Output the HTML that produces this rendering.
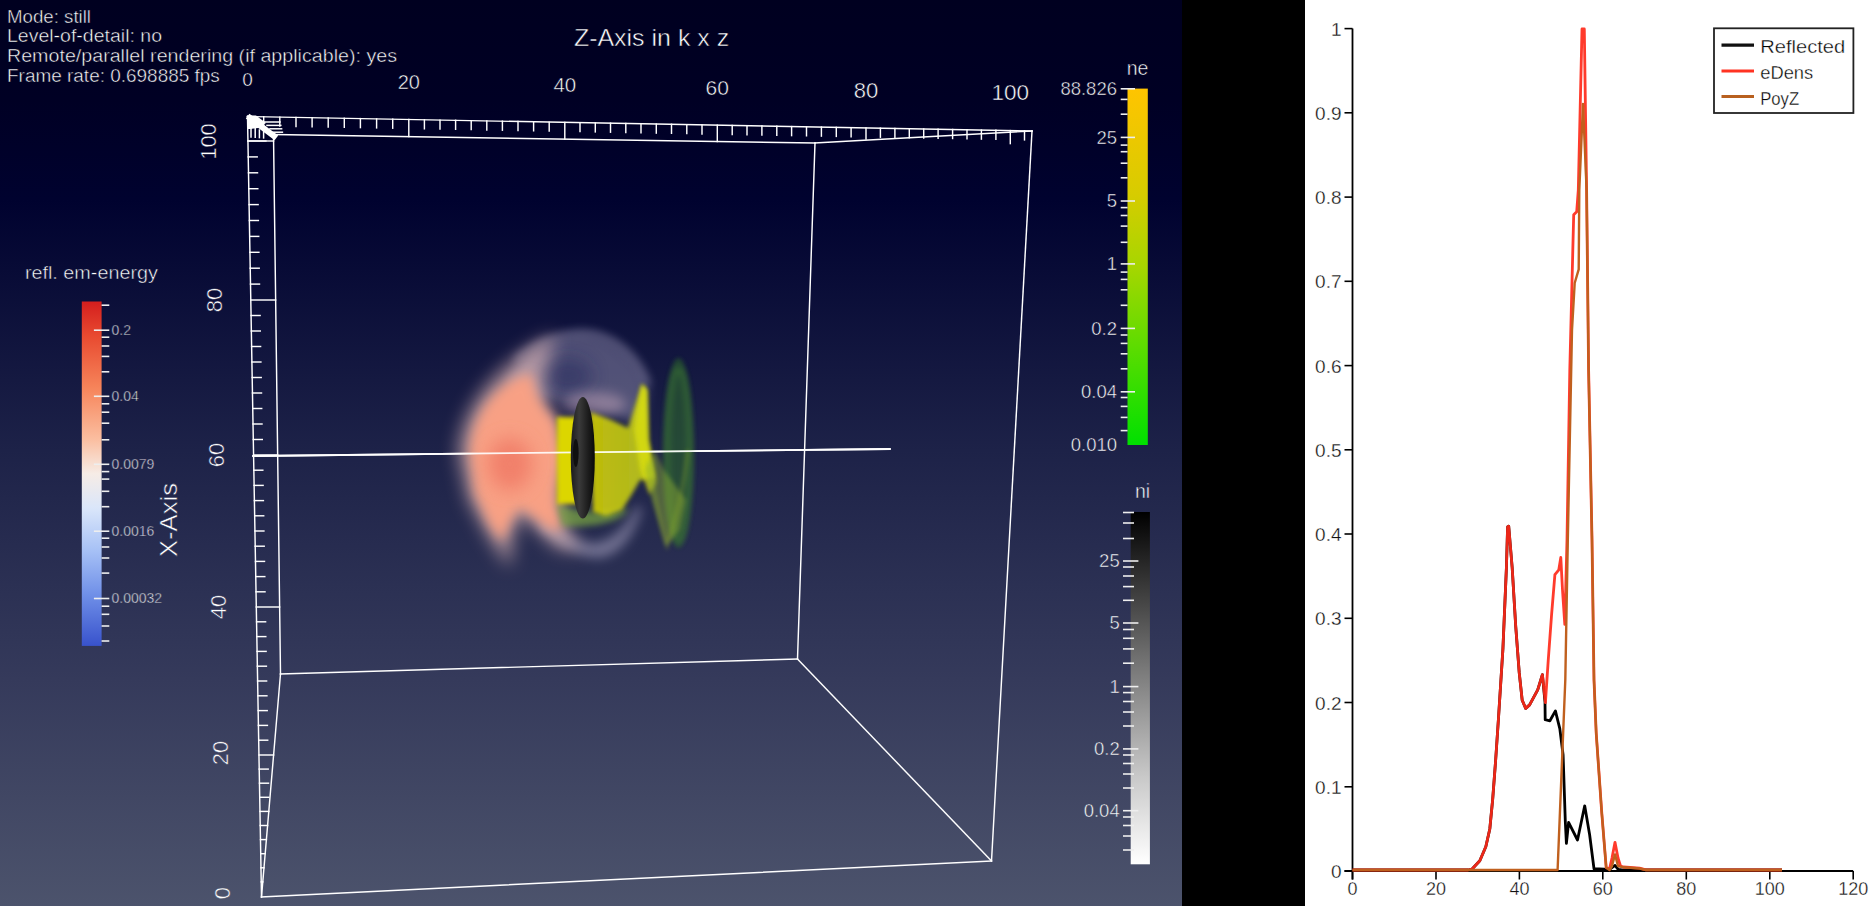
<!DOCTYPE html>
<html><head><meta charset="utf-8"><title>ParaView</title>
<style>
html,body{margin:0;padding:0;width:1875px;height:906px;overflow:hidden;background:#000;}
svg{display:block;font-family:"Liberation Sans", sans-serif;}
</style></head><body>
<svg width="1875" height="906" viewBox="0 0 1875 906">
<defs>
<linearGradient id="bg" x1="0" y1="0" x2="0" y2="1">
<stop offset="0" stop-color="#000020"/>
<stop offset="0.11" stop-color="#000024"/>
<stop offset="0.22" stop-color="#00022f"/>
<stop offset="0.497" stop-color="#1d2248"/>
<stop offset="0.75" stop-color="#353a5b"/>
<stop offset="1" stop-color="#4c536c"/>
</linearGradient>
<linearGradient id="cbRefl" x1="0" y1="0" x2="0" y2="1">
<stop offset="0" stop-color="#d41e1e"/>
<stop offset="0.1" stop-color="#e84a30"/>
<stop offset="0.25" stop-color="#f6845a"/>
<stop offset="0.4" stop-color="#fbbea0"/>
<stop offset="0.5" stop-color="#f6ece6"/>
<stop offset="0.6" stop-color="#dae6fa"/>
<stop offset="0.72" stop-color="#a8c2f6"/>
<stop offset="0.85" stop-color="#7090e8"/>
<stop offset="1" stop-color="#3852cc"/>
</linearGradient>
<linearGradient id="cbNe" x1="0" y1="0" x2="0" y2="1">
<stop offset="0" stop-color="#ffc400"/>
<stop offset="0.3" stop-color="#d6cc00"/>
<stop offset="0.5" stop-color="#a6d600"/>
<stop offset="0.72" stop-color="#5edc00"/>
<stop offset="1" stop-color="#00e000"/>
</linearGradient>
<linearGradient id="cbNi" x1="0" y1="0" x2="0" y2="1">
<stop offset="0" stop-color="#000000"/>
<stop offset="0.45" stop-color="#7a7a7a"/>
<stop offset="0.75" stop-color="#c8c8c8"/>
<stop offset="1" stop-color="#ffffff"/>
</linearGradient>
</defs>
<rect x="0" y="0" width="1182" height="906" fill="url(#bg)"/>
<rect x="1182" y="0" width="123" height="906" fill="#000"/>
<rect x="1305" y="0" width="570" height="906" fill="#fff"/>

<text x="7.0" y="22.9" font-size="19" fill="#fff" text-anchor="start" textLength="84" lengthAdjust="spacingAndGlyphs"  stroke="#000021" stroke-width="0.5">Mode: still</text>
<text x="7.0" y="42.3" font-size="19" fill="#fff" text-anchor="start" textLength="155" lengthAdjust="spacingAndGlyphs"  stroke="#000021" stroke-width="0.5">Level-of-detail: no</text>
<text x="7.0" y="62.2" font-size="19" fill="#fff" text-anchor="start" textLength="390" lengthAdjust="spacingAndGlyphs"  stroke="#000022" stroke-width="0.5">Remote/parallel rendering (if applicable): yes</text>
<text x="7.0" y="81.6" font-size="19" fill="#fff" text-anchor="start" textLength="212.8" lengthAdjust="spacingAndGlyphs"  stroke="#000023" stroke-width="0.5">Frame rate: 0.698885 fps</text>
<text x="573.9" y="45.5" font-size="24.5" fill="#fff" text-anchor="start" textLength="155.3" lengthAdjust="spacingAndGlyphs"  stroke="#000021" stroke-width="0.5">Z-Axis in k x z</text>
<g id="box" stroke-linecap="square">
<line x1="247.5" y1="116.5" x2="1032.0" y2="131.0" stroke="#fff" stroke-width="1.45" />
<line x1="1032.0" y1="131.0" x2="991.5" y2="861.0" stroke="#fff" stroke-width="1.45" />
<line x1="991.5" y1="861.0" x2="261.5" y2="897.0" stroke="#fff" stroke-width="1.45" />
<line x1="261.5" y1="897.0" x2="247.5" y2="116.5" stroke="#fff" stroke-width="1.45" />
<line x1="273.5" y1="134.5" x2="815.0" y2="143.0" stroke="#fff" stroke-width="1.45" />
<line x1="815.0" y1="143.0" x2="797.5" y2="659.0" stroke="#fff" stroke-width="1.45" />
<line x1="797.5" y1="659.0" x2="280.5" y2="674.0" stroke="#fff" stroke-width="1.45" />
<line x1="280.5" y1="674.0" x2="273.5" y2="134.5" stroke="#fff" stroke-width="1.45" />
<line x1="247.5" y1="116.5" x2="273.5" y2="134.5" stroke="#fff" stroke-width="1.45" />
<line x1="1032.0" y1="131.0" x2="815.0" y2="143.0" stroke="#fff" stroke-width="1.45" />
<line x1="991.5" y1="861.0" x2="797.5" y2="659.0" stroke="#fff" stroke-width="1.45" />
<line x1="261.5" y1="897.0" x2="280.5" y2="674.0" stroke="#fff" stroke-width="1.45" />
<line x1="253.0" y1="456.0" x2="890.0" y2="449.0" stroke="#fff" stroke-width="1.8" />
<line x1="263.7" y1="116.8" x2="263.7" y2="125.8" stroke="#fff" stroke-width="1.45" />
<line x1="279.8" y1="117.1" x2="279.8" y2="126.1" stroke="#fff" stroke-width="1.45" />
<line x1="296.0" y1="117.4" x2="296.0" y2="126.4" stroke="#fff" stroke-width="1.45" />
<line x1="312.1" y1="117.7" x2="312.1" y2="126.7" stroke="#fff" stroke-width="1.45" />
<line x1="328.2" y1="118.0" x2="328.2" y2="127.0" stroke="#fff" stroke-width="1.45" />
<line x1="344.3" y1="118.3" x2="344.3" y2="127.3" stroke="#fff" stroke-width="1.45" />
<line x1="360.4" y1="118.6" x2="360.4" y2="127.6" stroke="#fff" stroke-width="1.45" />
<line x1="376.6" y1="118.9" x2="376.6" y2="127.9" stroke="#fff" stroke-width="1.45" />
<line x1="392.7" y1="119.2" x2="392.7" y2="128.2" stroke="#fff" stroke-width="1.45" />
<line x1="408.8" y1="119.5" x2="408.8" y2="136.6" stroke="#fff" stroke-width="1.45" />
<line x1="424.4" y1="119.8" x2="424.4" y2="128.8" stroke="#fff" stroke-width="1.45" />
<line x1="440.0" y1="120.1" x2="440.0" y2="129.1" stroke="#fff" stroke-width="1.45" />
<line x1="455.6" y1="120.3" x2="455.6" y2="129.3" stroke="#fff" stroke-width="1.45" />
<line x1="471.2" y1="120.6" x2="471.2" y2="129.6" stroke="#fff" stroke-width="1.45" />
<line x1="486.8" y1="120.9" x2="486.8" y2="129.9" stroke="#fff" stroke-width="1.45" />
<line x1="502.4" y1="121.2" x2="502.4" y2="130.2" stroke="#fff" stroke-width="1.45" />
<line x1="518.0" y1="121.5" x2="518.0" y2="130.5" stroke="#fff" stroke-width="1.45" />
<line x1="533.6" y1="121.8" x2="533.6" y2="130.8" stroke="#fff" stroke-width="1.45" />
<line x1="549.2" y1="122.1" x2="549.2" y2="131.1" stroke="#fff" stroke-width="1.45" />
<line x1="564.8" y1="122.4" x2="564.8" y2="139.1" stroke="#fff" stroke-width="1.45" />
<line x1="580.0" y1="122.6" x2="580.0" y2="131.6" stroke="#fff" stroke-width="1.45" />
<line x1="595.3" y1="122.9" x2="595.3" y2="131.9" stroke="#fff" stroke-width="1.45" />
<line x1="610.5" y1="123.2" x2="610.5" y2="132.2" stroke="#fff" stroke-width="1.45" />
<line x1="625.8" y1="123.5" x2="625.8" y2="132.5" stroke="#fff" stroke-width="1.45" />
<line x1="641.0" y1="123.8" x2="641.0" y2="132.8" stroke="#fff" stroke-width="1.45" />
<line x1="656.3" y1="124.1" x2="656.3" y2="133.1" stroke="#fff" stroke-width="1.45" />
<line x1="671.5" y1="124.3" x2="671.5" y2="133.3" stroke="#fff" stroke-width="1.45" />
<line x1="686.8" y1="124.6" x2="686.8" y2="133.6" stroke="#fff" stroke-width="1.45" />
<line x1="702.0" y1="124.9" x2="702.0" y2="133.9" stroke="#fff" stroke-width="1.45" />
<line x1="717.3" y1="125.2" x2="717.3" y2="141.5" stroke="#fff" stroke-width="1.45" />
<line x1="732.2" y1="125.5" x2="732.2" y2="134.5" stroke="#fff" stroke-width="1.45" />
<line x1="747.0" y1="125.7" x2="747.0" y2="134.7" stroke="#fff" stroke-width="1.45" />
<line x1="761.9" y1="126.0" x2="761.9" y2="135.0" stroke="#fff" stroke-width="1.45" />
<line x1="776.8" y1="126.3" x2="776.8" y2="135.3" stroke="#fff" stroke-width="1.45" />
<line x1="791.6" y1="126.6" x2="791.6" y2="135.6" stroke="#fff" stroke-width="1.45" />
<line x1="806.5" y1="126.8" x2="806.5" y2="135.8" stroke="#fff" stroke-width="1.45" />
<line x1="821.4" y1="127.1" x2="821.4" y2="136.1" stroke="#fff" stroke-width="1.45" />
<line x1="836.3" y1="127.4" x2="836.3" y2="136.4" stroke="#fff" stroke-width="1.45" />
<line x1="851.1" y1="127.7" x2="851.1" y2="136.7" stroke="#fff" stroke-width="1.45" />
<line x1="866.0" y1="127.9" x2="866.0" y2="138.9" stroke="#fff" stroke-width="1.45" />
<line x1="880.4" y1="128.2" x2="880.4" y2="137.2" stroke="#fff" stroke-width="1.45" />
<line x1="894.9" y1="128.5" x2="894.9" y2="137.5" stroke="#fff" stroke-width="1.45" />
<line x1="909.3" y1="128.7" x2="909.3" y2="137.7" stroke="#fff" stroke-width="1.45" />
<line x1="923.7" y1="129.0" x2="923.7" y2="138.0" stroke="#fff" stroke-width="1.45" />
<line x1="938.1" y1="129.3" x2="938.1" y2="138.3" stroke="#fff" stroke-width="1.45" />
<line x1="952.6" y1="129.5" x2="952.6" y2="138.5" stroke="#fff" stroke-width="1.45" />
<line x1="967.0" y1="129.8" x2="967.0" y2="138.8" stroke="#fff" stroke-width="1.45" />
<line x1="981.4" y1="130.1" x2="981.4" y2="139.1" stroke="#fff" stroke-width="1.45" />
<line x1="995.9" y1="130.3" x2="995.9" y2="139.3" stroke="#fff" stroke-width="1.45" />
<line x1="1010.3" y1="130.6" x2="1010.3" y2="143.6" stroke="#fff" stroke-width="1.45" />
<line x1="1024.5" y1="130.9" x2="1024.5" y2="139.9" stroke="#fff" stroke-width="1.45" />
<line x1="261.2" y1="881.9" x2="262.8" y2="881.9" stroke="#fff" stroke-width="1.45" />
<line x1="261.0" y1="867.8" x2="264.0" y2="867.8" stroke="#fff" stroke-width="1.45" />
<line x1="260.7" y1="853.7" x2="265.2" y2="853.7" stroke="#fff" stroke-width="1.45" />
<line x1="260.5" y1="839.6" x2="266.4" y2="839.6" stroke="#fff" stroke-width="1.45" />
<line x1="260.2" y1="825.5" x2="267.6" y2="825.5" stroke="#fff" stroke-width="1.45" />
<line x1="260.0" y1="811.4" x2="268.8" y2="811.4" stroke="#fff" stroke-width="1.45" />
<line x1="259.7" y1="797.3" x2="268.7" y2="797.3" stroke="#fff" stroke-width="1.45" />
<line x1="259.5" y1="783.2" x2="268.5" y2="783.2" stroke="#fff" stroke-width="1.45" />
<line x1="259.2" y1="769.1" x2="268.2" y2="769.1" stroke="#fff" stroke-width="1.45" />
<line x1="259.0" y1="755.0" x2="273.6" y2="755.0" stroke="#fff" stroke-width="1.45" />
<line x1="258.7" y1="740.2" x2="267.7" y2="740.2" stroke="#fff" stroke-width="1.45" />
<line x1="258.4" y1="725.4" x2="267.4" y2="725.4" stroke="#fff" stroke-width="1.45" />
<line x1="258.2" y1="710.6" x2="267.2" y2="710.6" stroke="#fff" stroke-width="1.45" />
<line x1="257.9" y1="695.8" x2="266.9" y2="695.8" stroke="#fff" stroke-width="1.45" />
<line x1="257.6" y1="681.0" x2="266.6" y2="681.0" stroke="#fff" stroke-width="1.45" />
<line x1="257.4" y1="666.2" x2="266.4" y2="666.2" stroke="#fff" stroke-width="1.45" />
<line x1="257.1" y1="651.4" x2="266.1" y2="651.4" stroke="#fff" stroke-width="1.45" />
<line x1="256.8" y1="636.6" x2="265.8" y2="636.6" stroke="#fff" stroke-width="1.45" />
<line x1="256.6" y1="621.8" x2="265.6" y2="621.8" stroke="#fff" stroke-width="1.45" />
<line x1="256.3" y1="607.0" x2="279.6" y2="607.0" stroke="#fff" stroke-width="1.45" />
<line x1="256.0" y1="591.8" x2="265.0" y2="591.8" stroke="#fff" stroke-width="1.45" />
<line x1="255.8" y1="576.6" x2="264.8" y2="576.6" stroke="#fff" stroke-width="1.45" />
<line x1="255.5" y1="561.4" x2="264.5" y2="561.4" stroke="#fff" stroke-width="1.45" />
<line x1="255.2" y1="546.2" x2="264.2" y2="546.2" stroke="#fff" stroke-width="1.45" />
<line x1="254.9" y1="531.0" x2="263.9" y2="531.0" stroke="#fff" stroke-width="1.45" />
<line x1="254.7" y1="515.8" x2="263.7" y2="515.8" stroke="#fff" stroke-width="1.45" />
<line x1="254.4" y1="500.6" x2="263.4" y2="500.6" stroke="#fff" stroke-width="1.45" />
<line x1="254.1" y1="485.4" x2="263.1" y2="485.4" stroke="#fff" stroke-width="1.45" />
<line x1="253.8" y1="470.2" x2="262.8" y2="470.2" stroke="#fff" stroke-width="1.45" />
<line x1="253.6" y1="455.0" x2="277.7" y2="455.0" stroke="#fff" stroke-width="1.45" />
<line x1="253.3" y1="439.5" x2="262.3" y2="439.5" stroke="#fff" stroke-width="1.45" />
<line x1="253.0" y1="424.0" x2="262.0" y2="424.0" stroke="#fff" stroke-width="1.45" />
<line x1="252.7" y1="408.5" x2="261.7" y2="408.5" stroke="#fff" stroke-width="1.45" />
<line x1="252.5" y1="393.0" x2="261.5" y2="393.0" stroke="#fff" stroke-width="1.45" />
<line x1="252.2" y1="377.5" x2="261.2" y2="377.5" stroke="#fff" stroke-width="1.45" />
<line x1="251.9" y1="362.0" x2="260.9" y2="362.0" stroke="#fff" stroke-width="1.45" />
<line x1="251.6" y1="346.5" x2="260.6" y2="346.5" stroke="#fff" stroke-width="1.45" />
<line x1="251.3" y1="331.0" x2="260.3" y2="331.0" stroke="#fff" stroke-width="1.45" />
<line x1="251.1" y1="315.5" x2="260.1" y2="315.5" stroke="#fff" stroke-width="1.45" />
<line x1="250.8" y1="300.0" x2="275.6" y2="300.0" stroke="#fff" stroke-width="1.45" />
<line x1="250.5" y1="284.1" x2="259.5" y2="284.1" stroke="#fff" stroke-width="1.45" />
<line x1="250.2" y1="268.2" x2="259.2" y2="268.2" stroke="#fff" stroke-width="1.45" />
<line x1="249.9" y1="252.3" x2="258.9" y2="252.3" stroke="#fff" stroke-width="1.45" />
<line x1="249.7" y1="236.4" x2="258.7" y2="236.4" stroke="#fff" stroke-width="1.45" />
<line x1="249.4" y1="220.5" x2="258.4" y2="220.5" stroke="#fff" stroke-width="1.45" />
<line x1="249.1" y1="204.6" x2="258.1" y2="204.6" stroke="#fff" stroke-width="1.45" />
<line x1="248.8" y1="188.7" x2="257.8" y2="188.7" stroke="#fff" stroke-width="1.45" />
<line x1="248.5" y1="172.8" x2="257.5" y2="172.8" stroke="#fff" stroke-width="1.45" />
<line x1="248.2" y1="156.9" x2="257.2" y2="156.9" stroke="#fff" stroke-width="1.45" />
<line x1="247.9" y1="141.0" x2="265.9" y2="141.0" stroke="#fff" stroke-width="1.45" />
<line x1="247.7" y1="125.0" x2="256.7" y2="125.0" stroke="#fff" stroke-width="1.45" />
<line x1="250" y1="118" x2="274" y2="136" stroke="#fff" stroke-width="6"/>
<polygon points="247,115.5 256,115.5 266,123 258,128 250,129 247,129" fill="#fff"/>
<line x1="251.0" y1="127.0" x2="251.0" y2="137.0" stroke="#fff" stroke-width="1.5" />
<line x1="255.2" y1="128.5" x2="255.2" y2="137.3" stroke="#fff" stroke-width="1.5" />
<line x1="259.4" y1="130.0" x2="259.4" y2="137.6" stroke="#fff" stroke-width="1.5" />
<line x1="263.6" y1="131.5" x2="263.6" y2="137.9" stroke="#fff" stroke-width="1.5" />
<line x1="264.0" y1="122.0" x2="280.0" y2="122.0" stroke="#fff" stroke-width="1.5" />
<line x1="267.0" y1="125.4" x2="280.8" y2="125.4" stroke="#fff" stroke-width="1.5" />
<line x1="270.0" y1="128.8" x2="281.6" y2="128.8" stroke="#fff" stroke-width="1.5" />
<line x1="273.0" y1="132.2" x2="282.4" y2="132.2" stroke="#fff" stroke-width="1.5" />
<line x1="247.9" y1="141.0" x2="273.6" y2="141.0" stroke="#fff" stroke-width="1.45" />
</g>
<text x="247.6" y="86.0" font-size="19" fill="#fff" text-anchor="middle"  stroke="#000023" stroke-width="0.5">0</text>
<text x="408.8" y="88.8" font-size="20" fill="#fff" text-anchor="middle"  stroke="#000023" stroke-width="0.5">20</text>
<text x="564.8" y="91.5" font-size="20.5" fill="#fff" text-anchor="middle"  stroke="#000023" stroke-width="0.5">40</text>
<text x="717.3" y="94.9" font-size="21" fill="#fff" text-anchor="middle"  stroke="#000024" stroke-width="0.5">60</text>
<text x="866.0" y="98.1" font-size="22" fill="#fff" text-anchor="middle"  stroke="#000024" stroke-width="0.5">80</text>
<text x="1010.3" y="100.0" font-size="22.5" fill="#fff" text-anchor="middle"  stroke="#000024" stroke-width="0.5">100</text>
<text x="0" y="0" font-size="22" fill="#fff" text-anchor="middle" stroke="#000129" stroke-width="0.5" transform="translate(216.1,141.5) rotate(-90)">100</text>
<text x="0" y="0" font-size="22" fill="#fff" text-anchor="middle" stroke="#0c0f39" stroke-width="0.5" transform="translate(221.7,300.0) rotate(-90)">80</text>
<text x="0" y="0" font-size="22" fill="#fff" text-anchor="middle" stroke="#1d2248" stroke-width="0.5" transform="translate(224.0,455.0) rotate(-90)">60</text>
<text x="0" y="0" font-size="22" fill="#fff" text-anchor="middle" stroke="#2d3255" stroke-width="0.5" transform="translate(226.0,607.0) rotate(-90)">40</text>
<text x="0" y="0" font-size="22" fill="#fff" text-anchor="middle" stroke="#3c4261" stroke-width="0.5" transform="translate(228.0,753.0) rotate(-90)">20</text>
<text x="0" y="0" font-size="22" fill="#fff" text-anchor="middle" stroke="#4b526b" stroke-width="0.5" transform="translate(230.0,893.0) rotate(-90)">0</text>
<text x="0" y="0" font-size="24" fill="#fff" text-anchor="middle" stroke="#24294e" stroke-width="0.5" textLength="74" lengthAdjust="spacingAndGlyphs" transform="translate(176.8,520) rotate(-90)">X-Axis</text>
<text x="24.9" y="278.8" font-size="18" fill="#fff" text-anchor="start" textLength="133" lengthAdjust="spacingAndGlyphs"  stroke="#080b36" stroke-width="0.5">refl. em-energy</text>
<rect x="81.8" y="301.5" width="19.8" height="344.4" fill="url(#cbRefl)"/>
<line x1="93.9" y1="330.2" x2="109.3" y2="330.2" stroke="#eee" stroke-width="1.6" />
<line x1="93.9" y1="396.3" x2="109.3" y2="396.3" stroke="#eee" stroke-width="1.6" />
<line x1="93.9" y1="464.3" x2="109.3" y2="464.3" stroke="#eee" stroke-width="1.6" />
<line x1="93.9" y1="531.2" x2="109.3" y2="531.2" stroke="#eee" stroke-width="1.6" />
<line x1="93.9" y1="598.5" x2="109.3" y2="598.5" stroke="#eee" stroke-width="1.6" />
<line x1="101.6" y1="305.2" x2="109.3" y2="305.2" stroke="#eee" stroke-width="1.6" />
<line x1="101.6" y1="337.2" x2="109.3" y2="337.2" stroke="#eee" stroke-width="1.6" />
<line x1="101.6" y1="346.0" x2="109.3" y2="346.0" stroke="#eee" stroke-width="1.6" />
<line x1="101.6" y1="356.4" x2="109.3" y2="356.4" stroke="#eee" stroke-width="1.6" />
<line x1="101.6" y1="371.8" x2="109.3" y2="371.8" stroke="#eee" stroke-width="1.6" />
<line x1="101.6" y1="403.8" x2="109.3" y2="403.8" stroke="#eee" stroke-width="1.6" />
<line x1="101.6" y1="412.2" x2="109.3" y2="412.2" stroke="#eee" stroke-width="1.6" />
<line x1="101.6" y1="423.2" x2="109.3" y2="423.2" stroke="#eee" stroke-width="1.6" />
<line x1="101.6" y1="439.8" x2="109.3" y2="439.8" stroke="#eee" stroke-width="1.6" />
<line x1="101.6" y1="471.6" x2="109.3" y2="471.6" stroke="#eee" stroke-width="1.6" />
<line x1="101.6" y1="479.1" x2="109.3" y2="479.1" stroke="#eee" stroke-width="1.6" />
<line x1="101.6" y1="491.3" x2="109.3" y2="491.3" stroke="#eee" stroke-width="1.6" />
<line x1="101.6" y1="506.7" x2="109.3" y2="506.7" stroke="#eee" stroke-width="1.6" />
<line x1="101.6" y1="538.2" x2="109.3" y2="538.2" stroke="#eee" stroke-width="1.6" />
<line x1="101.6" y1="547.0" x2="109.3" y2="547.0" stroke="#eee" stroke-width="1.6" />
<line x1="101.6" y1="558.0" x2="109.3" y2="558.0" stroke="#eee" stroke-width="1.6" />
<line x1="101.6" y1="573.1" x2="109.3" y2="573.1" stroke="#eee" stroke-width="1.6" />
<line x1="101.6" y1="606.2" x2="109.3" y2="606.2" stroke="#eee" stroke-width="1.6" />
<line x1="101.6" y1="614.3" x2="109.3" y2="614.3" stroke="#eee" stroke-width="1.6" />
<line x1="101.6" y1="626.0" x2="109.3" y2="626.0" stroke="#eee" stroke-width="1.6" />
<line x1="101.6" y1="641.0" x2="109.3" y2="641.0" stroke="#eee" stroke-width="1.6" />
<text x="111.5" y="335.0" font-size="14" fill="#fff" text-anchor="start"  stroke="#0f133c" stroke-width="0.5">0.2</text>
<text x="111.5" y="401.1" font-size="14" fill="#fff" text-anchor="start"  stroke="#171b43" stroke-width="0.5">0.04</text>
<text x="111.5" y="469.1" font-size="14" fill="#fff" text-anchor="start"  stroke="#1e2349" stroke-width="0.5">0.0079</text>
<text x="111.5" y="536.0" font-size="14" fill="#fff" text-anchor="start"  stroke="#252a4f" stroke-width="0.5">0.0016</text>
<text x="111.5" y="603.3" font-size="14" fill="#fff" text-anchor="start"  stroke="#2d3254" stroke-width="0.5">0.00032</text>
<text x="1137.5" y="74.5" font-size="19.5" fill="#fff" text-anchor="middle"  stroke="#000023" stroke-width="0.5">ne</text>
<rect x="1127.5" y="88.6" width="20.3" height="356.4" fill="url(#cbNe)"/>
<line x1="1120.7" y1="88.8" x2="1135.0" y2="88.8" stroke="#eee" stroke-width="1.6" />
<line x1="1120.7" y1="137.4" x2="1135.0" y2="137.4" stroke="#eee" stroke-width="1.6" />
<line x1="1120.7" y1="201.0" x2="1135.0" y2="201.0" stroke="#eee" stroke-width="1.6" />
<line x1="1120.7" y1="263.9" x2="1135.0" y2="263.9" stroke="#eee" stroke-width="1.6" />
<line x1="1120.7" y1="328.4" x2="1135.0" y2="328.4" stroke="#eee" stroke-width="1.6" />
<line x1="1120.7" y1="391.8" x2="1135.0" y2="391.8" stroke="#eee" stroke-width="1.6" />
<line x1="1120.7" y1="99.4" x2="1127.5" y2="99.4" stroke="#eee" stroke-width="1.6" />
<line x1="1120.7" y1="114.2" x2="1127.5" y2="114.2" stroke="#eee" stroke-width="1.6" />
<line x1="1120.7" y1="145.1" x2="1127.5" y2="145.1" stroke="#eee" stroke-width="1.6" />
<line x1="1120.7" y1="151.7" x2="1127.5" y2="151.7" stroke="#eee" stroke-width="1.6" />
<line x1="1120.7" y1="163.2" x2="1127.5" y2="163.2" stroke="#eee" stroke-width="1.6" />
<line x1="1120.7" y1="177.8" x2="1127.5" y2="177.8" stroke="#eee" stroke-width="1.6" />
<line x1="1120.7" y1="207.6" x2="1127.5" y2="207.6" stroke="#eee" stroke-width="1.6" />
<line x1="1120.7" y1="215.5" x2="1127.5" y2="215.5" stroke="#eee" stroke-width="1.6" />
<line x1="1120.7" y1="226.1" x2="1127.5" y2="226.1" stroke="#eee" stroke-width="1.6" />
<line x1="1120.7" y1="242.3" x2="1127.5" y2="242.3" stroke="#eee" stroke-width="1.6" />
<line x1="1120.7" y1="272.1" x2="1127.5" y2="272.1" stroke="#eee" stroke-width="1.6" />
<line x1="1120.7" y1="279.4" x2="1127.5" y2="279.4" stroke="#eee" stroke-width="1.6" />
<line x1="1120.7" y1="289.8" x2="1127.5" y2="289.8" stroke="#eee" stroke-width="1.6" />
<line x1="1120.7" y1="305.3" x2="1127.5" y2="305.3" stroke="#eee" stroke-width="1.6" />
<line x1="1120.7" y1="335.0" x2="1127.5" y2="335.0" stroke="#eee" stroke-width="1.6" />
<line x1="1120.7" y1="343.4" x2="1127.5" y2="343.4" stroke="#eee" stroke-width="1.6" />
<line x1="1120.7" y1="353.8" x2="1127.5" y2="353.8" stroke="#eee" stroke-width="1.6" />
<line x1="1120.7" y1="368.8" x2="1127.5" y2="368.8" stroke="#eee" stroke-width="1.6" />
<line x1="1120.7" y1="397.5" x2="1127.5" y2="397.5" stroke="#eee" stroke-width="1.6" />
<line x1="1120.7" y1="406.4" x2="1127.5" y2="406.4" stroke="#eee" stroke-width="1.6" />
<line x1="1120.7" y1="417.4" x2="1127.5" y2="417.4" stroke="#eee" stroke-width="1.6" />
<line x1="1120.7" y1="430.6" x2="1127.5" y2="430.6" stroke="#eee" stroke-width="1.6" />
<text x="1117.0" y="95.0" font-size="18.5" fill="#fff" text-anchor="end"  stroke="#000024" stroke-width="0.5">88.826</text>
<text x="1117.0" y="143.6" font-size="18.5" fill="#fff" text-anchor="end"  stroke="#000128" stroke-width="0.5">25</text>
<text x="1117.0" y="207.2" font-size="18.5" fill="#fff" text-anchor="end"  stroke="#00022f" stroke-width="0.5">5</text>
<text x="1117.0" y="270.1" font-size="18.5" fill="#fff" text-anchor="end"  stroke="#070a35" stroke-width="0.5">1</text>
<text x="1117.0" y="334.6" font-size="18.5" fill="#fff" text-anchor="end"  stroke="#0f123c" stroke-width="0.5">0.2</text>
<text x="1117.0" y="398.0" font-size="18.5" fill="#fff" text-anchor="end"  stroke="#161b42" stroke-width="0.5">0.04</text>
<text x="1117.0" y="451.2" font-size="18.5" fill="#fff" text-anchor="end"  stroke="#1c2147" stroke-width="0.5">0.010</text>
<text x="1142.5" y="497.5" font-size="19.5" fill="#fff" text-anchor="middle"  stroke="#21264b" stroke-width="0.5">ni</text>
<rect x="1130.7" y="512" width="19.2" height="352.3" fill="url(#cbNi)"/>
<line x1="1123.0" y1="561.0" x2="1138.4" y2="561.0" stroke="#eee" stroke-width="1.6" />
<line x1="1123.0" y1="623.0" x2="1138.4" y2="623.0" stroke="#eee" stroke-width="1.6" />
<line x1="1123.0" y1="686.6" x2="1138.4" y2="686.6" stroke="#eee" stroke-width="1.6" />
<line x1="1123.0" y1="748.9" x2="1138.4" y2="748.9" stroke="#eee" stroke-width="1.6" />
<line x1="1123.0" y1="810.7" x2="1138.4" y2="810.7" stroke="#eee" stroke-width="1.6" />
<line x1="1123.0" y1="512.5" x2="1134.0" y2="512.5" stroke="#eee" stroke-width="1.6" />
<line x1="1123.0" y1="523.0" x2="1134.0" y2="523.0" stroke="#eee" stroke-width="1.6" />
<line x1="1123.0" y1="538.5" x2="1134.0" y2="538.5" stroke="#eee" stroke-width="1.6" />
<line x1="1123.0" y1="567.0" x2="1134.0" y2="567.0" stroke="#eee" stroke-width="1.6" />
<line x1="1123.0" y1="576.0" x2="1134.0" y2="576.0" stroke="#eee" stroke-width="1.6" />
<line x1="1123.0" y1="586.6" x2="1134.0" y2="586.6" stroke="#eee" stroke-width="1.6" />
<line x1="1123.0" y1="600.3" x2="1134.0" y2="600.3" stroke="#eee" stroke-width="1.6" />
<line x1="1123.0" y1="629.5" x2="1134.0" y2="629.5" stroke="#eee" stroke-width="1.6" />
<line x1="1123.0" y1="638.3" x2="1134.0" y2="638.3" stroke="#eee" stroke-width="1.6" />
<line x1="1123.0" y1="648.9" x2="1134.0" y2="648.9" stroke="#eee" stroke-width="1.6" />
<line x1="1123.0" y1="663.2" x2="1134.0" y2="663.2" stroke="#eee" stroke-width="1.6" />
<line x1="1123.0" y1="692.6" x2="1134.0" y2="692.6" stroke="#eee" stroke-width="1.6" />
<line x1="1123.0" y1="701.5" x2="1134.0" y2="701.5" stroke="#eee" stroke-width="1.6" />
<line x1="1123.0" y1="712.0" x2="1134.0" y2="712.0" stroke="#eee" stroke-width="1.6" />
<line x1="1123.0" y1="726.0" x2="1134.0" y2="726.0" stroke="#eee" stroke-width="1.6" />
<line x1="1123.0" y1="755.0" x2="1134.0" y2="755.0" stroke="#eee" stroke-width="1.6" />
<line x1="1123.0" y1="763.5" x2="1134.0" y2="763.5" stroke="#eee" stroke-width="1.6" />
<line x1="1123.0" y1="774.0" x2="1134.0" y2="774.0" stroke="#eee" stroke-width="1.6" />
<line x1="1123.0" y1="788.0" x2="1134.0" y2="788.0" stroke="#eee" stroke-width="1.6" />
<line x1="1123.0" y1="817.0" x2="1134.0" y2="817.0" stroke="#eee" stroke-width="1.6" />
<line x1="1123.0" y1="825.5" x2="1134.0" y2="825.5" stroke="#eee" stroke-width="1.6" />
<line x1="1123.0" y1="836.0" x2="1134.0" y2="836.0" stroke="#eee" stroke-width="1.6" />
<line x1="1123.0" y1="850.0" x2="1134.0" y2="850.0" stroke="#eee" stroke-width="1.6" />
<text x="1119.7" y="567.2" font-size="18.5" fill="#fff" text-anchor="end"  stroke="#292e51" stroke-width="0.5">25</text>
<text x="1119.7" y="629.2" font-size="18.5" fill="#fff" text-anchor="end"  stroke="#2f3456" stroke-width="0.5">5</text>
<text x="1119.7" y="692.8" font-size="18.5" fill="#fff" text-anchor="end"  stroke="#363b5c" stroke-width="0.5">1</text>
<text x="1119.7" y="755.1" font-size="18.5" fill="#fff" text-anchor="end"  stroke="#3c4260" stroke-width="0.5">0.2</text>
<text x="1119.7" y="816.9" font-size="18.5" fill="#fff" text-anchor="end"  stroke="#424865" stroke-width="0.5">0.04</text>
<defs>
<filter id="b1" x="-50%" y="-50%" width="200%" height="200%"><feGaussianBlur stdDeviation="1.2"/></filter>
<filter id="b2" x="-50%" y="-50%" width="200%" height="200%"><feGaussianBlur stdDeviation="2"/></filter>
<filter id="b3" x="-50%" y="-50%" width="200%" height="200%"><feGaussianBlur stdDeviation="3"/></filter>
<filter id="b4" x="-50%" y="-50%" width="200%" height="200%"><feGaussianBlur stdDeviation="4"/></filter>
<filter id="b6" x="-50%" y="-50%" width="200%" height="200%"><feGaussianBlur stdDeviation="6"/></filter>
<filter id="b9" x="-50%" y="-50%" width="200%" height="200%"><feGaussianBlur stdDeviation="9"/></filter>
<filter id="b12" x="-50%" y="-50%" width="200%" height="200%"><feGaussianBlur stdDeviation="12"/></filter>
<linearGradient id="disk" x1="0" y1="0" x2="1" y2="0">
<stop offset="0" stop-color="#1c1c1c"/>
<stop offset="0.35" stop-color="#3a3a3a"/>
<stop offset="0.7" stop-color="#1e1e1e"/>
<stop offset="1" stop-color="#080808"/>
</linearGradient>
<linearGradient id="yel" x1="0" y1="0" x2="1" y2="0">
<stop offset="0" stop-color="#dcd800"/>
<stop offset="0.5" stop-color="#d0d410"/>
<stop offset="1" stop-color="#c8d418"/>
</linearGradient>
</defs>
<path d="M 508,382 C 522,352 552,333 582,333 C 612,335 636,354 648,384 L 642,425 C 620,418 600,410 580,405 C 560,400 540,398 518,400 Z" fill="#c8c0e0" opacity="0.34" filter="url(#b6)"/>
<path d="M 515,360 C 540,338 570,330 595,334 C 620,340 640,360 648,385" fill="none" stroke="#d0c8e4" stroke-width="7" opacity="0.25" filter="url(#b4)"/>
<ellipse cx="568" cy="376" rx="24" ry="18" fill="#1a2058" opacity="0.45" filter="url(#b9)"/>
<ellipse cx="594" cy="404" rx="32" ry="12" fill="#d8b4c4" opacity="0.42" filter="url(#b6)"/>
<path d="M 538,526 C 560,545 580,557 596,558 C 616,558 633,540 642,508 L 636,506 C 625,530 610,541 595,543 C 575,543 560,532 545,518 Z" fill="#ccc4e0" opacity="0.45" filter="url(#b6)"/>
<path d="M 458,455 C 458,420 480,385 515,358 C 530,346 545,338 556,335 L 548,360 C 540,380 542,395 556,418 L 566,456 L 560,496 L 566,521 L 580,552 L 556,548 L 535,528 L 521,516 L 514,532 L 510,568 L 490,540 L 468,500 Z" fill="#f0c4c0" opacity="0.62" filter="url(#b9)"/>
<path d="M 470,455 C 470,425 485,400 505,385 C 515,378 525,374 532,374 C 534,390 540,405 556,421 L 562,456 L 556,496 L 560,518 L 562,530 L 550,530 L 535,518 L 520,508 L 511,520 L 502,542 L 489,524 L 475,493 Z" fill="#f8a084" filter="url(#b6)"/>
<ellipse cx="510" cy="464" rx="22" ry="26" fill="#ef7360" opacity="0.7" filter="url(#b9)"/>
<path d="M 556,503 C 580,514 610,514 628,508 C 625,520 600,528 562,526 Z" fill="#7aa840" opacity="0.7" filter="url(#b3)"/>
<rect x="557" y="417" width="30" height="87" fill="#dcd600" filter="url(#b2)"/>
<polygon points="590,412 611,420 628,428 642,384 647,390 648,440 655,478 640,480 632,494 622,510 606,516 593,512" fill="url(#yel)" opacity="0.85" filter="url(#b2)"/>
<polygon points="642,384 647,390 649,440 656,482 650,495 640,470 634,430" fill="#e0e410" opacity="0.7" filter="url(#b2)"/>
<ellipse cx="678.5" cy="453" rx="15.5" ry="95" fill="#2f6a2a" opacity="0.55" filter="url(#b2)"/>
<ellipse cx="678.5" cy="455" rx="11" ry="86" fill="none" stroke="#58a838" stroke-width="4" opacity="0.35" filter="url(#b3)"/>
<polygon points="645,470 652,500 666,546 680,530 686,500 664,470 655,450" fill="#90b030" opacity="0.45" filter="url(#b2)"/>
<path d="M 648,462 C 655,500 662,530 667,546 C 675,520 684,490 688,450" fill="none" stroke="#9ab828" stroke-width="3" opacity="0.35" filter="url(#b2)"/>
<line x1="253" y1="456" x2="890" y2="449" stroke="#fff" stroke-width="1.8" opacity="0.9"/>
<ellipse cx="582.8" cy="457.8" rx="12" ry="60.8" fill="url(#disk)"/>
<ellipse cx="575.8" cy="453" rx="2.8" ry="14" fill="#101010"/>
<g id="chart">
<line x1="1352.5" y1="28.600000000000023" x2="1352.5" y2="879.5" stroke="#000" stroke-width="1.8"/>
<line x1="1344.5" y1="871.0" x2="1853.2" y2="871.0" stroke="#000" stroke-width="1.8"/>
<line x1="1344.5" y1="871.0" x2="1352.5" y2="871.0" stroke="#000" stroke-width="1.6"/>
<text x="1341.5" y="878.0" font-size="19" fill="#111" text-anchor="end" stroke="#fff" stroke-width="0.3">0</text>
<line x1="1344.5" y1="786.8" x2="1352.5" y2="786.8" stroke="#000" stroke-width="1.6"/>
<text x="1341.5" y="793.8" font-size="19" fill="#111" text-anchor="end" stroke="#fff" stroke-width="0.3">0.1</text>
<line x1="1344.5" y1="702.5" x2="1352.5" y2="702.5" stroke="#000" stroke-width="1.6"/>
<text x="1341.5" y="709.5" font-size="19" fill="#111" text-anchor="end" stroke="#fff" stroke-width="0.3">0.2</text>
<line x1="1344.5" y1="618.3" x2="1352.5" y2="618.3" stroke="#000" stroke-width="1.6"/>
<text x="1341.5" y="625.3" font-size="19" fill="#111" text-anchor="end" stroke="#fff" stroke-width="0.3">0.3</text>
<line x1="1344.5" y1="534.0" x2="1352.5" y2="534.0" stroke="#000" stroke-width="1.6"/>
<text x="1341.5" y="541.0" font-size="19" fill="#111" text-anchor="end" stroke="#fff" stroke-width="0.3">0.4</text>
<line x1="1344.5" y1="449.8" x2="1352.5" y2="449.8" stroke="#000" stroke-width="1.6"/>
<text x="1341.5" y="456.8" font-size="19" fill="#111" text-anchor="end" stroke="#fff" stroke-width="0.3">0.5</text>
<line x1="1344.5" y1="365.6" x2="1352.5" y2="365.6" stroke="#000" stroke-width="1.6"/>
<text x="1341.5" y="372.6" font-size="19" fill="#111" text-anchor="end" stroke="#fff" stroke-width="0.3">0.6</text>
<line x1="1344.5" y1="281.3" x2="1352.5" y2="281.3" stroke="#000" stroke-width="1.6"/>
<text x="1341.5" y="288.3" font-size="19" fill="#111" text-anchor="end" stroke="#fff" stroke-width="0.3">0.7</text>
<line x1="1344.5" y1="197.1" x2="1352.5" y2="197.1" stroke="#000" stroke-width="1.6"/>
<text x="1341.5" y="204.1" font-size="19" fill="#111" text-anchor="end" stroke="#fff" stroke-width="0.3">0.8</text>
<line x1="1344.5" y1="112.8" x2="1352.5" y2="112.8" stroke="#000" stroke-width="1.6"/>
<text x="1341.5" y="119.8" font-size="19" fill="#111" text-anchor="end" stroke="#fff" stroke-width="0.3">0.9</text>
<line x1="1344.5" y1="28.6" x2="1352.5" y2="28.6" stroke="#000" stroke-width="1.6"/>
<text x="1341.5" y="35.6" font-size="19" fill="#111" text-anchor="end" stroke="#fff" stroke-width="0.3">1</text>
<line x1="1352.5" y1="871.0" x2="1352.5" y2="879.5" stroke="#000" stroke-width="1.6"/>
<text x="1352.5" y="894.8" font-size="18" fill="#111" text-anchor="middle" stroke="#fff" stroke-width="0.3">0</text>
<line x1="1436.0" y1="871.0" x2="1436.0" y2="879.5" stroke="#000" stroke-width="1.6"/>
<text x="1436.0" y="894.8" font-size="18" fill="#111" text-anchor="middle" stroke="#fff" stroke-width="0.3">20</text>
<line x1="1519.4" y1="871.0" x2="1519.4" y2="879.5" stroke="#000" stroke-width="1.6"/>
<text x="1519.4" y="894.8" font-size="18" fill="#111" text-anchor="middle" stroke="#fff" stroke-width="0.3">40</text>
<line x1="1602.8" y1="871.0" x2="1602.8" y2="879.5" stroke="#000" stroke-width="1.6"/>
<text x="1602.8" y="894.8" font-size="18" fill="#111" text-anchor="middle" stroke="#fff" stroke-width="0.3">60</text>
<line x1="1686.3" y1="871.0" x2="1686.3" y2="879.5" stroke="#000" stroke-width="1.6"/>
<text x="1686.3" y="894.8" font-size="18" fill="#111" text-anchor="middle" stroke="#fff" stroke-width="0.3">80</text>
<line x1="1769.8" y1="871.0" x2="1769.8" y2="879.5" stroke="#000" stroke-width="1.6"/>
<text x="1769.8" y="894.8" font-size="18" fill="#111" text-anchor="middle" stroke="#fff" stroke-width="0.3">100</text>
<line x1="1853.2" y1="871.0" x2="1853.2" y2="879.5" stroke="#000" stroke-width="1.6"/>
<text x="1853.2" y="894.8" font-size="18" fill="#111" text-anchor="middle" stroke="#fff" stroke-width="0.3">120</text>
</g>
<polyline points="1352.5,870.0 1468.0,870.0 1471.9,869.2 1479.8,860.7 1485.8,846.8 1489.8,829.0 1492.7,799.2 1495.7,759.5 1498.5,718.0 1502.9,649.2 1506.4,568.0 1507.6,527.0 1508.7,526.2 1512.2,568.0 1515.7,626.0 1519.2,672.4 1522.2,700.3 1525.7,708.4 1529.6,704.9 1537.7,689.8 1542.4,674.7 1545.0,702.0 1545.2,719.7 1549.9,720.8 1555.4,710.9 1559.8,728.6 1563.1,755.0 1565.3,821.3 1566.4,843.4 1568.6,822.4 1577.5,840.0 1584.7,805.8 1589.6,834.5 1594.0,868.7 1609.5,869.5 1615.0,865.4 1618.3,869.5 1622.0,870.0 1782.0,870.0" fill="none" stroke="#000" stroke-width="2.8" stroke-linejoin="round"/>
<polyline points="1352.5,870.0 1468.0,870.0 1471.9,869.2 1479.8,860.7 1485.8,846.8 1489.8,829.0 1492.7,799.2 1495.7,759.5 1498.5,718.0 1502.9,649.2 1506.4,568.0 1507.6,527.0 1508.7,526.2 1512.2,568.0 1515.7,626.0 1519.2,672.4 1522.2,700.3 1525.7,708.4 1529.6,704.9 1537.7,689.8 1542.4,674.7 1545.4,702.6 1548.2,660.8 1551.6,614.4 1554.9,574.7 1558.8,569.8 1560.8,557.5 1562.5,590.0 1564.8,624.3 1567.0,540.0 1569.8,370.0 1573.7,214.8 1576.7,211.8 1578.3,190.0 1582.0,29.0 1584.3,29.0 1586.6,190.0 1588.6,370.0 1592.0,540.0 1594.0,680.0 1596.2,733.0 1601.7,812.0 1606.2,867.6 1609.5,869.0 1612.0,858.0 1615.0,842.3 1618.0,858.0 1620.5,866.0 1623.5,867.0 1639.6,868.2 1646.0,869.8 1782.0,870.0" fill="none" stroke="#ff2a1a" stroke-width="2.8" stroke-linejoin="round" stroke-opacity="0.92"/>
<polyline points="1352.5,870.0 1557.6,870.0 1565.3,680.0 1567.8,540.0 1572.0,330.0 1574.7,283.0 1578.7,269.4 1579.3,190.0 1583.0,104.0 1586.6,190.0 1588.6,370.0 1592.0,540.0 1594.0,680.0 1596.2,733.0 1601.7,812.0 1606.2,867.6 1609.5,870.0 1612.0,866.0 1615.0,854.4 1618.0,866.0 1623.5,867.3 1639.6,868.5 1646.0,870.0 1782.0,870.0" fill="none" stroke="#c0601e" stroke-width="2.4" stroke-linejoin="round"/>
<rect x="1714" y="28.3" width="139.4" height="84.7" fill="#fff" stroke="#222" stroke-width="1.8"/>
<line x1="1721.5" y1="45.2" x2="1754" y2="45.2" stroke="#111" stroke-width="3.2"/>
<text x="1760.2" y="53.2" font-size="19" fill="#000" text-anchor="start" textLength="85" lengthAdjust="spacingAndGlyphs" stroke="#fff" stroke-width="0.35">Reflected</text>
<line x1="1721.5" y1="71" x2="1754" y2="71" stroke="#ff3322" stroke-width="3.2"/>
<text x="1760.2" y="79.0" font-size="19" fill="#000" text-anchor="start" textLength="53" lengthAdjust="spacingAndGlyphs" stroke="#fff" stroke-width="0.35">eDens</text>
<line x1="1721.5" y1="96.5" x2="1754" y2="96.5" stroke="#b8601f" stroke-width="3.2"/>
<text x="1760.2" y="104.5" font-size="19" fill="#000" text-anchor="start" textLength="39" lengthAdjust="spacingAndGlyphs" stroke="#fff" stroke-width="0.35">PoyZ</text>
</svg></body></html>
